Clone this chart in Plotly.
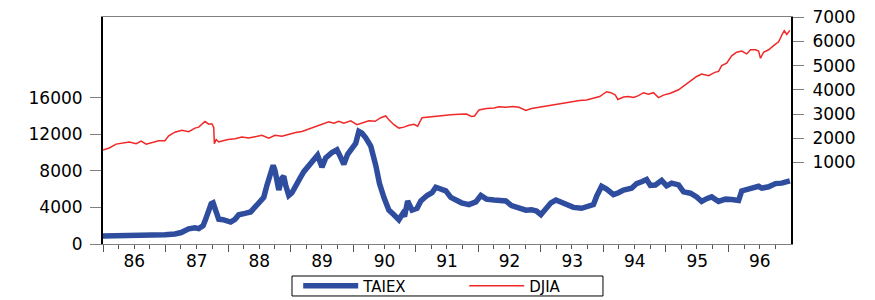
import pandas as pd
import plotly.graph_objects as go

# TAIEX: (decimal year, index value)
taiex_t = [1986.00, 1986.26, 1986.50, 1986.73, 1986.99, 1987.15, 1987.25, 1987.37, 1987.47, 1987.53,
           1987.60, 1987.63, 1987.68, 1987.73, 1987.76, 1987.81, 1987.85, 1987.92, 1987.98, 1988.04,
           1988.11, 1988.17, 1988.27, 1988.36, 1988.44, 1988.52, 1988.57, 1988.62, 1988.67, 1988.72,
           1988.75, 1988.78, 1988.81, 1988.86, 1988.89, 1988.92, 1988.97, 1989.02, 1989.08, 1989.15,
           1989.21, 1989.29, 1989.37, 1989.43, 1989.50, 1989.56, 1989.66, 1989.74, 1989.79, 1989.85,
           1989.91, 1989.98, 1990.04, 1990.09, 1990.14, 1990.20, 1990.28, 1990.36, 1990.42, 1990.49,
           1990.57, 1990.65, 1990.73, 1990.79, 1990.82, 1990.87, 1990.94, 1991.02, 1991.08, 1991.18,
           1991.26, 1991.32, 1991.42, 1991.48, 1991.56, 1991.65, 1991.73, 1991.85, 1991.96, 1992.04,
           1992.13, 1992.25, 1992.33, 1992.44, 1992.53, 1992.65, 1992.76, 1992.85, 1992.93, 1993.00,
           1993.08, 1993.16, 1993.24, 1993.33, 1993.41, 1993.52, 1993.65, 1993.76, 1993.84, 1993.89,
           1993.97, 1994.05, 1994.16, 1994.24, 1994.32, 1994.45, 1994.53, 1994.61, 1994.69, 1994.75,
           1994.83, 1994.93, 1995.01, 1995.09, 1995.20, 1995.28, 1995.39, 1995.49, 1995.57, 1995.65,
           1995.73, 1995.84, 1995.95, 1996.05, 1996.16, 1996.21, 1996.32, 1996.40, 1996.48, 1996.53,
           1996.64, 1996.75, 1996.85, 1996.98]
taiex_v = [880, 900, 890, 920, 1000, 1100, 1250, 1650, 1780, 1680,
           2000, 2500, 3600, 4400, 4500, 3400, 2700, 2650, 2600, 2400,
           2700, 3200, 3350, 3500, 4100, 4700, 5100, 6400, 7600, 8600,
           8000, 6400, 5900, 7200, 7400, 6400, 5300, 5600, 6500, 7200,
           7900, 8600, 9200, 9700, 8400, 9400, 10000, 10300, 9600, 8700,
           9800, 10500, 11000, 12300, 12100, 11600, 10700, 8600, 6600, 5100,
           3700, 3200, 2650, 3300, 3000, 4700, 3700, 3900, 4700, 5300,
           5600, 6200, 5900, 5800, 5100, 4700, 4500, 4300, 4600, 5300,
           4900, 4800, 4700, 4700, 4200, 3900, 3700, 3750, 3600, 3200,
           3900, 4500, 4800, 4500, 4300, 4000, 3900, 4100, 4300, 5200,
           6300, 6000, 5400, 5600, 5900, 6100, 6600, 6800, 7050, 6400,
           6450, 6950, 6350, 6650, 6450, 5700, 5550, 5150, 4650, 4950,
           5150, 4650, 4900, 4850, 4750, 5800, 6000, 6200, 6300, 6100,
           6250, 6600, 6650, 6900]

# DJIA: (decimal year, index value)
djia_t = [1986.00, 1986.10, 1986.21, 1986.32, 1986.42, 1986.53, 1986.61, 1986.69, 1986.78, 1986.89,
          1986.99, 1987.05, 1987.15, 1987.26, 1987.37, 1987.47, 1987.53, 1987.60, 1987.63, 1987.69,
          1987.74, 1987.77, 1987.78, 1987.81, 1987.85, 1987.92, 1988.00, 1988.11, 1988.22, 1988.33,
          1988.44, 1988.54, 1988.65, 1988.75, 1988.86, 1988.97, 1989.08, 1989.18, 1989.29, 1989.40,
          1989.51, 1989.61, 1989.69, 1989.77, 1989.85, 1989.96, 1990.06, 1990.15, 1990.25, 1990.35,
          1990.44, 1990.52, 1990.57, 1990.65, 1990.73, 1990.81, 1990.89, 1990.97, 1991.03, 1991.10,
          1991.21, 1991.32, 1991.43, 1991.56, 1991.69, 1991.81, 1991.89, 1991.94, 1992.01, 1992.13,
          1992.25, 1992.33, 1992.44, 1992.55, 1992.65, 1992.76, 1992.85, 1992.96, 1993.08, 1993.17,
          1993.28, 1993.40, 1993.51, 1993.62, 1993.73, 1993.84, 1993.94, 1994.05, 1994.12, 1994.19,
          1994.23, 1994.32, 1994.40, 1994.48, 1994.56, 1994.64, 1994.72, 1994.80, 1994.88, 1994.96,
          1995.07, 1995.20, 1995.31, 1995.41, 1995.49, 1995.57, 1995.63, 1995.68, 1995.78, 1995.84,
          1995.89, 1995.97, 1996.05, 1996.13, 1996.21, 1996.29, 1996.35, 1996.43, 1996.48, 1996.51,
          1996.56, 1996.64, 1996.72, 1996.80, 1996.86, 1996.89, 1996.93, 1996.98]
djia_v = [1520, 1600, 1760, 1800, 1850, 1780, 1880, 1760, 1820, 1900,
          1900, 2100, 2250, 2330, 2270, 2420, 2460, 2600, 2690, 2580,
          2600, 2450, 1780, 1950, 1850, 1900, 1950, 1980, 2050, 2010,
          2070, 2120, 2000, 2120, 2080, 2160, 2240, 2280, 2380, 2470,
          2560, 2680, 2620, 2700, 2620, 2720, 2560, 2640, 2720, 2700,
          2850, 2920, 2760, 2560, 2420, 2460, 2540, 2580, 2500, 2850,
          2880, 2920, 2940, 2970, 2990, 3000, 2900, 2920, 3170, 3230,
          3250, 3300, 3280, 3310, 3280, 3150, 3230, 3280, 3310, 3380,
          3420, 3480, 3520, 3560, 3580, 3650, 3720, 3920, 3880, 3780,
          3600, 3700, 3720, 3680, 3760, 3880, 3820, 3880, 3680, 3780,
          3860, 4000, 4200, 4380, 4550, 4650, 4620, 4580, 4720, 4760,
          5000, 5100, 5400, 5550, 5600, 5480, 5650, 5650, 5600, 5300,
          5550, 5650, 5820, 5980, 6300, 6440, 6280, 6450]

left_ticks = [0, 4000, 8000, 12000, 16000]
right_ticks = [1000, 2000, 3000, 4000, 5000, 6000, 7000]


def to_dates(ts):
    base = pd.Timestamp("1986-01-01")
    return [base + pd.to_timedelta((t - 1986) * 365.25, unit="D") for t in ts]


FONT = "DejaVu Sans"
fig = go.Figure()
fig.add_trace(go.Scatter(x=to_dates(taiex_t), y=taiex_v, name="TAIEX", mode="lines",
                         line=dict(color="#2f4d9e", width=5.5), yaxis="y"))
fig.add_trace(go.Scatter(x=to_dates(djia_t), y=djia_v, name="DJIA", mode="lines",
                         line=dict(color="#f02828", width=1.5), yaxis="y2"))

# the page body adds an 8px offset, so the figure is 8px smaller on the top/left
fig.update_layout(
    width=867, height=292,
    margin=dict(l=95, r=84, t=9, b=56, autoexpand=False),
    plot_bgcolor="white", paper_bgcolor="white",
    font=dict(family=FONT, size=16, color="black"),
    showlegend=True,
    legend=dict(orientation="h", x=0.525, xanchor="center", y=-0.185, yanchor="middle",
                bgcolor="rgba(0,0,0,0)", borderwidth=0, font=dict(size=15, family=FONT),
                itemwidth=55, entrywidth=96, tracegroupgap=0),
    # frame around the legend
    shapes=[dict(type="rect", xref="paper", yref="paper", x0=0.2747, x1=0.7267,
                 y0=-0.229, y1=-0.141, line=dict(color="black", width=1), fillcolor="rgba(0,0,0,0)",
                 layer="above")],
    xaxis=dict(type="date", range=["1986-01-01", "1996-12-31"],
               showline=True, linecolor="#808080", linewidth=1, mirror=True,
               showgrid=False, zeroline=False,
               dtick="M12", tick0="1986-01-01", tickformat="%y", ticklabelmode="period",
               ticks="outside", ticklen=7, tickcolor="#555555", tickwidth=1,
               ticklabelstandoff=-5,
               minor=dict(dtick="M3", ticks="outside", ticklen=4, tickcolor="#555555", showgrid=False),
               tickfont=dict(size=17, family=FONT)),
    yaxis=dict(range=[0, 24800], tickvals=left_ticks, ticktext=[str(v) for v in left_ticks],
               showline=True, linecolor="black", linewidth=2, showgrid=False, zeroline=False,
               ticks="outside", ticklen=11, tickcolor="#808080", tickwidth=1,
               ticklabelstandoff=4,
               tickfont=dict(size=17, family=FONT)),
    yaxis2=dict(range=[-2361, 7003], tickvals=right_ticks, ticktext=[str(v) for v in right_ticks],
                overlaying="y", side="right",
                showline=True, linecolor="black", linewidth=2, showgrid=False, zeroline=False,
                ticks="outside", ticklen=11, tickcolor="#808080", tickwidth=1,
                ticklabelstandoff=5, ticklabeloverflow="allow",
                tickfont=dict(size=17, family=FONT)),
)

fig.write_html("out.html")
